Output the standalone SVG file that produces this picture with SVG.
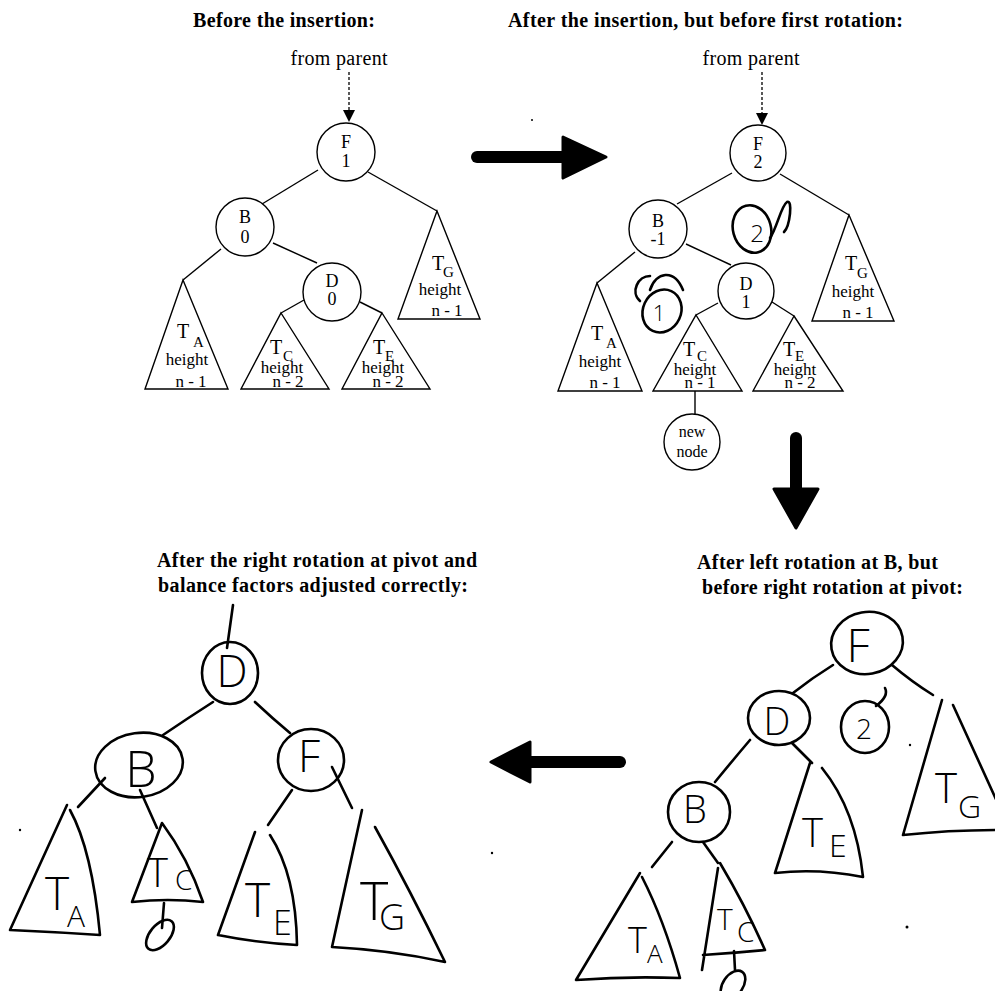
<svg xmlns="http://www.w3.org/2000/svg" width="995" height="991" viewBox="0 0 995 991">
<defs>
<style>
.t{font-family:"Liberation Serif","Times New Roman",serif;fill:#000}
.title{font-family:"Liberation Serif","Times New Roman",serif;font-weight:bold;font-size:20px;fill:#000}
.lbl{font-size:18px;text-anchor:middle}
.big{font-size:20px}
.sub{font-size:15px}
.sm{font-size:17px;text-anchor:middle}
.pl{fill:none;stroke:#000;stroke-width:1.4}
.pn{fill:#fff;stroke:#000;stroke-width:1.4}
.hd{fill:none;stroke:#000;stroke-width:2.6;stroke-linecap:round;stroke-linejoin:round}
.h{font-family:"Open Sans","DejaVu Sans",sans-serif;font-weight:300;fill:#000}
.dash{fill:none;stroke:#000;stroke-width:1.3;stroke-dasharray:3 2}
.fat{fill:none;stroke:#000;stroke-width:12;stroke-linecap:round}
</style>
<marker id="ah" markerWidth="12" markerHeight="12" refX="0" refY="6" orient="auto" markerUnits="userSpaceOnUse" viewBox="0 0 12 12">
<path d="M0,0 L12,6 L0,12 Z" fill="#000"/>
</marker>
</defs>
<rect width="995" height="991" fill="#fff"/>

<!-- titles -->
<text class="title" x="193" y="27" textLength="182" lengthAdjust="spacing">Before the insertion:</text>
<text class="title" x="508" y="27" textLength="395" lengthAdjust="spacing">After the insertion, but before first rotation:</text>
<text class="title" x="697" y="569" textLength="241" lengthAdjust="spacing">After left rotation at B, but</text>
<text class="title" x="702" y="594" textLength="261" lengthAdjust="spacing">before right rotation at pivot:</text>
<text class="title" x="157" y="567" textLength="320" lengthAdjust="spacing">After the right rotation at pivot and</text>
<text class="title" x="158" y="592" textLength="310" lengthAdjust="spacing">balance factors adjusted correctly:</text>

<!-- big arrows -->
<g id="arrows">
<line class="fat" x1="477" y1="157" x2="566" y2="157"/>
<path d="M563,137 L606,157 L563,178 Z" fill="#000" stroke="#000" stroke-width="3" stroke-linejoin="round"/>
<line class="fat" x1="796" y1="438" x2="796" y2="490"/>
<path d="M774,489 L818,489 L796,528 Z" fill="#000" stroke="#000" stroke-width="3" stroke-linejoin="round"/>
<line class="fat" x1="620" y1="762" x2="528" y2="762"/>
<path d="M530,742 L530,782 L491,762 Z" fill="#000" stroke="#000" stroke-width="3" stroke-linejoin="round"/>
</g>

<!-- connectors -->
<g id="connectors">
<!-- top-left -->
<line class="dash" x1="349" y1="72" x2="349" y2="110" marker-end="url(#ah)"/>
<line class="pl" x1="318" y1="170" x2="262" y2="204"/>
<line class="pl" x1="368" y1="172" x2="437" y2="211"/>
<line class="pl" x1="221" y1="249" x2="183" y2="280"/>
<line class="pl" x1="273" y1="243" x2="317" y2="263"/>
<line class="pl" x1="304" y1="300" x2="281" y2="313"/>
<line class="pl" x1="360" y1="302" x2="382" y2="313"/>
<!-- top-right -->
<line class="dash" x1="762" y1="72" x2="762" y2="113" marker-end="url(#ah)"/>
<line class="pl" x1="732" y1="173" x2="677" y2="204"/>
<line class="pl" x1="780" y1="174" x2="849" y2="215"/>
<line class="pl" x1="635" y1="252" x2="597" y2="283"/>
<line class="pl" x1="686" y1="244" x2="731" y2="265"/>
<line class="pl" x1="718" y1="303" x2="696" y2="315"/>
<line class="pl" x1="772" y1="302" x2="794" y2="316"/>
<line class="pl" x1="695" y1="391" x2="695" y2="414"/>
<!-- bottom-right -->
<path class="hd" d="M833,665 Q812,678 793,693"/>
<path class="hd" d="M892,665 Q912,682 933,695"/>
<path class="hd" d="M750,740 Q733,760 715,782"/>
<path class="hd" d="M792,743 L812,763"/>
<path class="hd" d="M672,842 L652,867"/>
<path class="hd" d="M703,842 L718,863"/>
<path class="hd" d="M734,951 L735,970"/>
<!-- bottom-left -->
<path class="hd" d="M233,605 L227,648"/>
<path class="hd" d="M213,702 Q188,718 163,735"/>
<path class="hd" d="M255,702 Q272,718 290,733"/>
<path class="hd" d="M105,778 L78,807"/>
<path class="hd" d="M140,790 L157,828"/>
<path class="hd" d="M292,790 L268,825"/>
<path class="hd" d="M332,767 L352,808"/>
<path class="hd" d="M164,903 L162,928"/>
</g>

<!-- top-left nodes -->
<g id="tl-F"><circle class="pn" cx="346" cy="152" r="29"/><text class="t lbl" x="346" y="148">F</text><text class="t lbl" x="346" y="167">1</text></g>
<g id="tl-B"><circle class="pn" cx="245" cy="227" r="29"/><text class="t lbl" x="245" y="223">B</text><text class="t lbl" x="245" y="243">0</text></g>
<g id="tl-D"><circle class="pn" cx="332" cy="292" r="29"/><text class="t lbl" x="332" y="287">D</text><text class="t lbl" x="332" y="305">0</text></g>
<g id="tl-TA"><path class="pn" d="M183,280 L228,389 L145,389 Z"/><text class="t big" x="177" y="338">T</text><text class="t sub" x="193" y="347">A</text><text class="t sm" x="187" y="365">height</text><text class="t sm" x="191" y="387">n - 1</text></g>
<g id="tl-TC"><path class="pn" d="M281,313 L329,389 L241,389 Z"/><text class="t big" x="270" y="354">T</text><text class="t sub" x="283" y="361">C</text><text class="t sm" x="282" y="373">height</text><text class="t sm" x="288" y="387">n - 2</text></g>
<g id="tl-TE"><path class="pn" d="M382,313 L430,389 L342,389 Z"/><text class="t big" x="373" y="354">T</text><text class="t sub" x="385" y="361">E</text><text class="t sm" x="383" y="373">height</text><text class="t sm" x="388" y="387">n - 2</text></g>
<g id="tl-TG"><path class="pn" d="M437,211 L480,319 L398,319 Z"/><text class="t big" x="432" y="270">T</text><text class="t sub" x="443" y="277">G</text><text class="t sm" x="440" y="295">height</text><text class="t sm" x="447" y="316">n - 1</text></g>
<text class="t" x="339" y="65" font-size="20" text-anchor="middle" textLength="97" lengthAdjust="spacing">from parent</text>

<!-- top-right nodes -->
<g id="tr-F"><circle class="pn" cx="758" cy="153" r="28"/><text class="t lbl" x="758" y="150">F</text><text class="t lbl" x="758" y="168">2</text></g>
<g id="tr-B"><circle class="pn" cx="658" cy="229" r="29"/><text class="t lbl" x="658" y="227">B</text><text class="t lbl" x="658" y="245">-1</text></g>
<g id="tr-D"><circle class="pn" cx="746" cy="291" r="28"/><text class="t lbl" x="746" y="290">D</text><text class="t lbl" x="746" y="308">1</text></g>
<g id="tr-TA"><path class="pn" d="M597,283 L642,391 L558,391 Z"/><text class="t big" x="591" y="340">T</text><text class="t sub" x="606" y="348">A</text><text class="t sm" x="600" y="367">height</text><text class="t sm" x="605" y="388">n - 1</text></g>
<g id="tr-TC"><path class="pn" d="M696,315 L742,391 L653,391 Z"/><text class="t big" x="683" y="356">T</text><text class="t sub" x="697" y="361">C</text><text class="t sm" x="695" y="375">height</text><text class="t sm" x="700" y="388">n - 1</text></g>
<g id="tr-TE"><path class="pn" d="M794,316 L843,391 L753,391 Z"/><text class="t big" x="783" y="356">T</text><text class="t sub" x="795" y="361">E</text><text class="t sm" x="795" y="375">height</text><text class="t sm" x="800" y="388">n - 2</text></g>
<g id="tr-TG"><path class="pn" d="M849,215 L894,321 L812,321 Z"/><text class="t big" x="845" y="270">T</text><text class="t sub" x="857" y="278">G</text><text class="t sm" x="853" y="297">height</text><text class="t sm" x="858" y="318">n - 1</text></g>
<g id="tr-new"><circle class="pn" cx="692" cy="442" r="28"/><text class="t" x="692" y="437" font-size="16" text-anchor="middle">new</text><text class="t" x="692" y="457" font-size="16" text-anchor="middle">node</text></g>
<text class="t" x="751" y="65" font-size="20" text-anchor="middle" textLength="97" lengthAdjust="spacing">from parent</text>
<g id="tr-note2">
<ellipse class="hd" cx="752" cy="229" rx="19" ry="24" transform="rotate(-15 752 229)" stroke-width="2"/>
<text class="h" x="757" y="242" font-size="24" text-anchor="middle">2</text>
<path class="hd" stroke-width="2" d="M770,238 C777,228 781,206 787,202 C793,199 790,226 784,232"/>
</g>
<g id="tr-note1">
<ellipse class="hd" cx="662" cy="311" rx="19" ry="22" transform="rotate(25 662 311)" stroke-width="2"/>
<text class="h" x="659" y="321" font-size="22" text-anchor="middle">1</text>
<path class="hd" stroke-width="2" d="M650,276 C638,276 630,292 640,301 M650,290 C656,272 674,268 683,290"/>
</g>

<!-- bottom-right (after left rotation) -->
<g id="br-F"><ellipse class="hd" cx="867" cy="643" rx="36" ry="31" transform="rotate(-10 867 643)"/><text class="h" x="858" y="662" font-size="46" text-anchor="middle">F</text></g>
<g id="br-D"><ellipse class="hd" cx="779" cy="718" rx="31" ry="27"/><text class="h" x="777" y="735" font-size="38" text-anchor="middle">D</text></g>
<g id="br-2"><ellipse class="hd" cx="865" cy="727" rx="24" ry="26"/><text class="h" x="864" y="739" font-size="28" text-anchor="middle">2</text><path class="hd" d="M876,706 C884,700 888,694 885,688"/></g>
<g id="br-B"><ellipse class="hd" cx="699" cy="812" rx="31" ry="30"/><text class="h" x="695" y="823" font-size="38" text-anchor="middle">B</text></g>
<g id="br-TE"><path class="hd" d="M810,763 L775,873 Q818,868 863,877 Q856,810 822,768"/><text class="h" x="802" y="847" font-size="40">T</text><text class="h" x="829" y="857" font-size="32">E</text></g>
<g id="br-TG"><path class="hd" d="M942,700 L903,835 Q950,830 1000,830 M953,705 L1000,808"/><text class="h" x="935" y="803" font-size="42">T</text><text class="h" x="958" y="818" font-size="32">G</text></g>
<g id="br-TA"><path class="hd" d="M640,873 L576,980 Q628,976 680,978 Q664,920 642,877"/><text class="h" x="628" y="953" font-size="36">T</text><text class="h" x="647" y="963" font-size="26">A</text></g>
<g id="br-TC"><path class="hd" d="M718,868 L702,970 M720,863 Q745,905 765,950 Q734,953 703,955"/><text class="h" x="717" y="930" font-size="30">T</text><text class="h" x="737" y="942" font-size="28">C</text></g>
<g id="br-new"><ellipse class="hd" cx="733" cy="985" rx="10" ry="16" transform="rotate(35 733 985)"/></g>
<circle cx="910" cy="745" r="1.2" fill="#000"/>
<circle cx="907" cy="927" r="1.5" fill="#000"/>

<!-- bottom-left (after right rotation) -->
<g id="bl-D"><ellipse class="hd" cx="230" cy="673" rx="28" ry="31"/><text class="h" x="232" y="687" font-size="44" text-anchor="middle">D</text></g>
<g id="bl-B"><ellipse class="hd" cx="139" cy="765" rx="44" ry="32" transform="rotate(-8 139 765)"/><text class="h" x="141" y="787" font-size="50" text-anchor="middle">B</text></g>
<g id="bl-F"><ellipse class="hd" cx="311" cy="760" rx="33" ry="31"/><text class="h" x="309" y="772" font-size="44" text-anchor="middle">F</text></g>
<g id="bl-TA"><path class="hd" d="M67,805 L10,930 Q55,932 100,935 Q92,850 70,810"/><text class="h" x="45" y="910" font-size="46">T</text><text class="h" x="67" y="927" font-size="30">A</text></g>
<g id="bl-TC"><path class="hd" d="M162,823 L132,902 Q168,898 203,902 Q188,858 162,823"/><text class="h" x="147" y="887" font-size="40">T</text><text class="h" x="175" y="890" font-size="28">C</text></g>
<g id="bl-TE"><path class="hd" d="M255,832 L218,935 Q258,943 297,945 Q296,875 270,835"/><text class="h" x="245" y="917" font-size="48">T</text><text class="h" x="273" y="935" font-size="34">E</text></g>
<g id="bl-TG"><path class="hd" d="M362,810 L332,947 Q390,950 445,962 Q410,890 375,827"/><text class="h" x="360" y="920" font-size="54">T</text><text class="h" x="379" y="930" font-size="36">G</text></g>
<g id="bl-new"><ellipse class="hd" cx="160" cy="935" rx="10" ry="18" transform="rotate(40 160 935)"/></g>
<circle cx="20" cy="830" r="1.2" fill="#000"/>
<circle cx="492" cy="853" r="1.2" fill="#000"/>
<circle cx="532" cy="120" r="1" fill="#000"/>
</svg>
